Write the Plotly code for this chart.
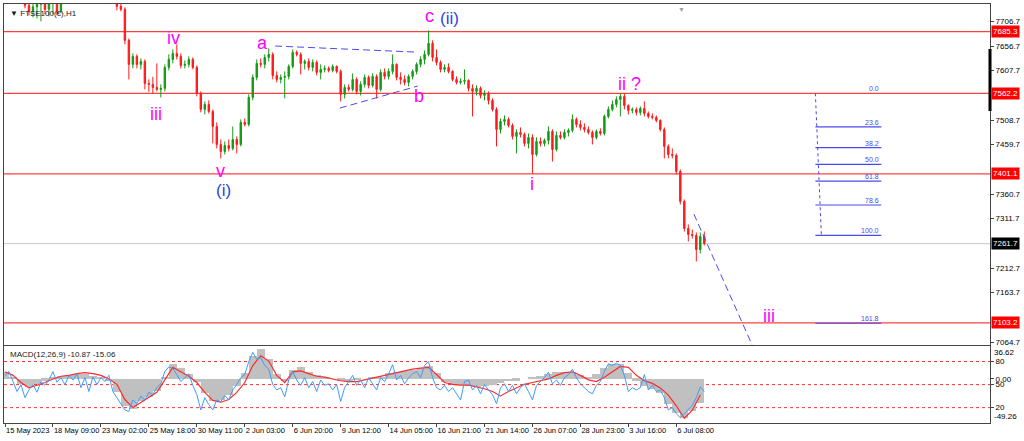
import plotly.graph_objects as go

# FTSE100 H1 candles (index = bar number)
opens = [7770, 7765, 7758, 7750, 7752, 7748, 7738, 7726, 7735, 7740, 7744, 7730, 7742, 7748, 7726, 7752,
         7765, 7778, 7788, 7782, 7776, 7785, 7780, 7770, 7778, 7772, 7764, 7758, 7750, 7736, 7730, 7668,
         7620, 7636, 7620, 7626, 7582, 7580, 7574, 7570, 7572, 7614, 7630, 7642, 7636, 7618, 7620, 7630,
         7614, 7562, 7530, 7540, 7526, 7496, 7460, 7446, 7458, 7452, 7470, 7460, 7504, 7500, 7554, 7594,
         7622, 7620, 7634, 7640, 7598, 7590, 7594, 7596, 7616, 7644, 7640, 7622, 7626, 7614, 7624, 7604,
         7610, 7612, 7608, 7616, 7606, 7560, 7574, 7570, 7590, 7566, 7580, 7594, 7578, 7596, 7570, 7604,
         7596, 7606, 7620, 7594, 7590, 7584, 7596, 7606, 7620, 7630, 7640, 7662, 7634, 7624, 7610, 7614,
         7606, 7590, 7584, 7586, 7588, 7572, 7566, 7572, 7558, 7562, 7548, 7530, 7490, 7506, 7510, 7498,
         7476, 7484, 7480, 7462, 7474, 7440, 7466, 7462, 7468, 7486, 7450, 7478, 7474, 7484, 7488, 7510,
         7500, 7494, 7490, 7484, 7474, 7486, 7482, 7516, 7530, 7540, 7550, 7556, 7538, 7528, 7530, 7524,
         7532, 7522, 7516, 7514, 7508, 7490, 7456, 7440, 7438, 7406, 7346, 7292, 7280, 7278, 7250, 7276]
highs = [7780, 7775, 7768, 7760, 7762, 7756, 7750, 7745, 7748, 7752, 7756, 7750, 7758, 7760, 7762, 7770,
         7785, 7795, 7800, 7794, 7790, 7798, 7792, 7785, 7790, 7784, 7778, 7770, 7758, 7742, 7734, 7672,
         7642, 7640, 7632, 7630, 7590, 7595, 7622, 7580, 7620, 7640, 7650, 7660, 7642, 7628, 7636, 7634,
         7618, 7566, 7546, 7548, 7530, 7504, 7470, 7466, 7470, 7496, 7476, 7510, 7512, 7560, 7600, 7630,
         7632, 7640, 7652, 7644, 7606, 7600, 7606, 7620, 7650, 7648, 7644, 7630, 7632, 7630, 7628, 7620,
         7618, 7616, 7620, 7618, 7610, 7580, 7580, 7602, 7594, 7586, 7600, 7598, 7602, 7600, 7610, 7612,
         7612, 7640, 7622, 7604, 7598, 7600, 7610, 7624, 7636, 7648, 7688, 7668, 7650, 7628, 7620, 7622,
         7608, 7596, 7592, 7610, 7590, 7580, 7578, 7576, 7568, 7566, 7552, 7534, 7512, 7518, 7514, 7502,
         7490, 7494, 7484, 7482, 7480, 7474, 7474, 7472, 7496, 7490, 7486, 7486, 7490, 7492, 7520, 7514,
         7508, 7502, 7496, 7488, 7490, 7492, 7520, 7536, 7548, 7556, 7562, 7562, 7540, 7534, 7534, 7536,
         7546, 7526, 7522, 7518, 7510, 7494, 7460, 7452, 7442, 7410, 7350, 7300, 7290, 7284, 7284, 7286]
lows = [7760, 7752, 7748, 7744, 7745, 7732, 7718, 7714, 7712, 7706, 7720, 7716, 7720, 7718, 7722, 7745,
        7758, 7770, 7775, 7770, 7768, 7776, 7765, 7762, 7768, 7760, 7752, 7746, 7728, 7726, 7660, 7590,
        7612, 7612, 7610, 7570, 7565, 7562, 7566, 7554, 7566, 7608, 7622, 7630, 7612, 7612, 7614, 7610,
        7556, 7524, 7520, 7522, 7462, 7452, 7432, 7440, 7446, 7448, 7442, 7456, 7496, 7496, 7548, 7588,
        7614, 7612, 7626, 7590, 7584, 7582, 7552, 7590, 7612, 7636, 7600, 7610, 7608, 7606, 7598, 7590,
        7604, 7604, 7604, 7602, 7546, 7552, 7566, 7566, 7560, 7558, 7574, 7572, 7574, 7552, 7566, 7590,
        7590, 7600, 7588, 7580, 7578, 7576, 7590, 7600, 7614, 7620, 7636, 7626, 7618, 7604, 7604, 7602,
        7586, 7580, 7580, 7580, 7566, 7516, 7558, 7552, 7548, 7540, 7526, 7456, 7482, 7498, 7494, 7470,
        7442, 7474, 7456, 7452, 7402, 7436, 7456, 7456, 7460, 7426, 7446, 7470, 7470, 7476, 7484, 7494,
        7488, 7484, 7480, 7460, 7470, 7478, 7478, 7512, 7526, 7534, 7516, 7530, 7520, 7522, 7518, 7518,
        7516, 7512, 7510, 7504, 7486, 7432, 7432, 7432, 7400, 7340, 7286, 7266, 7272, 7226, 7242, 7258]
closes = [7765, 7758, 7750, 7752, 7748, 7738, 7726, 7735, 7740, 7744, 7730, 7742, 7748, 7726, 7752, 7765,
          7778, 7788, 7782, 7776, 7785, 7780, 7770, 7778, 7772, 7764, 7758, 7750, 7736, 7730, 7668, 7620,
          7636, 7620, 7626, 7582, 7580, 7574, 7570, 7572, 7614, 7630, 7642, 7636, 7618, 7620, 7630, 7614,
          7562, 7530, 7540, 7526, 7496, 7460, 7446, 7458, 7452, 7470, 7460, 7504, 7500, 7554, 7594, 7622,
          7620, 7634, 7640, 7598, 7590, 7594, 7596, 7616, 7644, 7640, 7622, 7626, 7614, 7624, 7604, 7610,
          7612, 7608, 7616, 7606, 7560, 7574, 7570, 7590, 7566, 7580, 7594, 7578, 7596, 7570, 7604, 7596,
          7606, 7620, 7594, 7590, 7584, 7596, 7606, 7620, 7630, 7640, 7662, 7634, 7624, 7610, 7614, 7606,
          7590, 7584, 7586, 7588, 7572, 7566, 7572, 7558, 7562, 7548, 7530, 7490, 7506, 7510, 7498, 7476,
          7484, 7480, 7462, 7474, 7440, 7466, 7462, 7468, 7486, 7450, 7478, 7474, 7484, 7488, 7510, 7500,
          7494, 7490, 7484, 7474, 7486, 7482, 7516, 7530, 7540, 7550, 7556, 7538, 7528, 7530, 7524, 7532,
          7522, 7516, 7514, 7508, 7490, 7456, 7440, 7438, 7406, 7346, 7292, 7280, 7278, 7250, 7276, 7261.7]

# MACD(12,26,9), one reading every second bar
macd_main = [8, 2, -6, -9, -6, -2, 2, 3, 4, 5,
             5, 3, 2, -3, -15, -30, -34, -25, -20, -14,
             2, 16, 12, 5, -4, -16, -25, -24, -18, -8,
             6, 25, 33, 22, 5, -3, 10, 13, 8, 4,
             2, 0, -2, -3, -1, 0, 1, 2, 6, 8,
             9, 10, 12, 14, 6, -4, -6, -7, -8, -9,
             -8, -7, -5, -3, -2, 0, 1, 3, 5, 7,
             8, 7, 4, 2, 5, 12, 17, 16, 6, -2,
             -8, -11, -16, -28, -38, -44, -36, -27]
macd_signal = [8, 4, -4, -10, -7, -4, 0, 3, 4, 6,
               7, 6, 4, 0, -6, -23, -32, -26, -20, -15,
               -1, 13, 8, 3, -4, -15, -24, -26, -23, -15,
               -4, 15, 26, 20, 4, -4, 8, 9, 6, 3,
               2, 0, -2, -3, -3, -1, 1, 3, 5, 7,
               9, 11, 12, 13, 5, -4, -6, -7, -7, -9,
               -11, -14, -19, -14, -10, -6, -4, -2, 0, 4,
               7, 8, 4, -1, -3, 2, 8, 14, 13, 4,
               -2, -5, -10, -18, -30, -44, -35, -18]
# blue oscillator drawn in the same pane (0-100 scale, levels 20/50/80)
osc_line = [62, 67, 54, 41, 50, 33, 43, 50, 40, 54, 49, 56, 67, 53, 59, 50, 62, 56, 64, 46,
            59, 41, 60, 50, 59, 54, 62, 41, 33, 25, 17, 15, 30, 25, 35, 30, 40, 37, 46, 51,
            67, 73, 71, 63, 54, 59, 64, 49, 37, 17, 33, 24, 17, 30, 28, 36, 30, 43, 50, 59,
            63, 80, 92, 83, 85, 75, 70, 50, 43, 46, 34, 56, 67, 56, 49, 59, 46, 54, 41, 56,
            49, 51, 43, 50, 28, 46, 54, 62, 49, 56, 46, 59, 51, 43, 59, 54, 64, 76, 56, 62,
            51, 59, 64, 67, 59, 75, 80, 59, 46, 43, 49, 41, 46, 38, 30, 54, 56, 43, 49, 38,
            50, 43, 37, 25, 46, 51, 41, 49, 38, 46, 51, 41, 30, 49, 54, 59, 66, 51, 56, 49,
            59, 63, 70, 59, 51, 46, 41, 38, 49, 54, 67, 77, 75, 78, 75, 62, 41, 46, 43, 46,
            63, 43, 49, 41, 43, 33, 17, 20, 12, 7, 12, 17, 23, 33, 47, 41]
osc_levels = [20, 50, 80]

date_labels = ["15 May 2023", "18 May 09:00", "23 May 02:00", "25 May 18:00", "30 May 11:00",
               "2 Jun 03:00", "6 Jun 20:00", "9 Jun 12:00", "14 Jun 05:00", "16 Jun 21:00",
               "21 Jun 14:00", "26 Jun 07:00", "28 Jun 23:00", "3 Jul 16:00", "6 Jul 08:00"]
price_ticks = [7064.7, 7163.7, 7212.7, 7311.7, 7360.7,
               7459.7, 7508.7, 7607.7, 7656.7, 7706.7]
red_levels = [7685.3, 7562.2, 7401.1, 7103.2]
last_price = 7261.7
fib_high, fib_low = 7562.2, 7278.1
fib_levels = [0.0, 23.6, 38.2, 50.0, 61.8, 78.6, 100.0, 161.8]

bars = list(range(len(closes)))
bars2 = bars[::2]

MAGENTA = "#ff00ff"
WAVEBLUE = "#2a45d8"
LINEBLUE = "#4a4af0"
FONT = "Liberation Sans"

fig = go.Figure()
fig.add_trace(go.Candlestick(
    x=bars, open=opens, high=highs, low=lows, close=closes,
    increasing=dict(line=dict(color="#139a13", width=1), fillcolor="#139a13"),
    decreasing=dict(line=dict(color="#ff1a1a", width=1), fillcolor="#ff1a1a"),
    whiskerwidth=0, showlegend=False, hoverinfo="skip", xaxis="x", yaxis="y"))
fig.add_trace(go.Bar(x=bars2, y=macd_main, width=2, marker=dict(color="#c0c0c0", line=dict(width=0)),
                     showlegend=False, xaxis="x2", yaxis="y2"))
fig.add_trace(go.Scatter(x=bars2, y=macd_signal, mode="lines", line=dict(color="#ff2a2a", width=1.2),
                         showlegend=False, xaxis="x2", yaxis="y2"))
fig.add_trace(go.Scatter(x=bars, y=osc_line, mode="lines", line=dict(color="#3d9bff", width=1),
                         showlegend=False, xaxis="x2", yaxis="y3"))

shapes = []
for lv in red_levels:
    shapes.append(dict(type="line", xref="x domain", x0=0, x1=1, yref="y", y0=lv, y1=lv,
                       line=dict(color="#ff4040", width=1.2), layer="below"))
shapes.append(dict(type="line", xref="x domain", x0=0, x1=1, yref="y", y0=last_price, y1=last_price,
                   line=dict(color="#c8c8c8", width=1), layer="below"))
for lv in osc_levels:
    shapes.append(dict(type="line", xref="x2 domain", x0=0, x1=1, yref="y3", y0=lv, y1=lv,
                       line=dict(color="#ff3030", width=1, dash="dot"), layer="below"))

# triangle b-wave trendlines and the wave iii projection
for (x0, y0, x1, y1) in [(67.6, 7656.7, 102.5, 7644.7), (83.8, 7532.7, 103.3, 7576.7),
                         (172.4, 7320.7, 187.0, 7058.7)]:
    shapes.append(dict(type="line", xref="x", yref="y", x0=x0, y0=y0, x1=x1, y1=y1,
                       line=dict(color=LINEBLUE, width=1, dash="7px,4px")))

# fibonacci tool
fx0, fx1 = 202.8, 219.3
shapes.append(dict(type="line", xref="x", yref="y", x0=fx0, y0=fib_high, x1=fx0 + 1.5, y1=fib_low,
                   line=dict(color=LINEBLUE, width=1, dash="dot")))
annotations = []
for lv in fib_levels:
    p = fib_high - (fib_high - fib_low) * lv / 100
    if lv > 0:
        shapes.append(dict(type="line", xref="x", yref="y", x0=fx0, x1=fx1, y0=p, y1=p,
                           line=dict(color=LINEBLUE, width=1.2)))
    annotations.append(dict(x=fx1, y=p, xref="x", yref="y", xanchor="right", yanchor="bottom",
                            text=f"{lv:.1f}", showarrow=False, yshift=-1,
                            font=dict(family=FONT, size=7, color="#4a4af0")))

# black marker on the price scale
shapes.append(dict(type="line", xref="paper", yref="y", x0=1, x1=1, y0=7526.7, y1=7650.7,
                   line=dict(color="black", width=3)))

wave_text = [("iv", 42.2, 7672.7, MAGENTA), ("iii", 37.7, 7520.7, MAGENTA), ("v", 53.9, 7407.0, MAGENTA),
             ("(i)", 54.6, 7368.0, WAVEBLUE), ("a", 64.4, 7662.7, MAGENTA), ("b", 103.5, 7556.7, MAGENTA),
             ("c", 106.3, 7716.7, MAGENTA), ("(ii)", 111.3, 7712.7, WAVEBLUE), ("i", 132.0, 7380.7, MAGENTA),
             ("ii ?", 156.2, 7580.7, MAGENTA), ("iii", 191.1, 7116.7, MAGENTA)]
for t, x, y, c in wave_text:
    annotations.append(dict(x=x, y=y, xref="x", yref="y", text=t, showarrow=False,
                            font=dict(family=FONT, size=18 if c == MAGENTA else 17, color=c)))

# price boxes on the right scale
for lv in red_levels + [last_price]:
    annotations.append(dict(x=1, y=lv, xref="paper", yref="y", xanchor="left", xshift=1,
                            text=f"{lv:.1f}", showarrow=False, bgcolor="#ff0000" if lv != last_price else "#000000",
                            borderpad=1, font=dict(family=FONT, size=8, color="white")))

annotations += [
    dict(x=0.004, y=1, xref="paper", yref="paper", xanchor="left", yanchor="top", yshift=-3,
         text="▼ FTSE100(€),H1", showarrow=False, font=dict(family=FONT, size=8, color="#202020")),
    dict(x=0.6876, y=1, xref="paper", yref="paper", xanchor="center", yanchor="top",
         text="▼", showarrow=False, font=dict(family=FONT, size=7, color="#a0a0a0")),
    dict(x=0.004, y=1, xref="paper", yref="y2 domain", xanchor="left", yanchor="top", yshift=-2,
         text="MACD(12,26,9) -10.87 -15.06", showarrow=False, font=dict(family=FONT, size=8, color="#202020")),
    dict(x=1, y=1, xref="paper", yref="y2 domain", xanchor="left", yanchor="top", xshift=2,
         text="36.62", showarrow=False, font=dict(family=FONT, size=8, color="black")),
    dict(x=1, y=0, xref="paper", yref="y2 domain", xanchor="left", yanchor="bottom", xshift=2,
         text="-49.26", showarrow=False, font=dict(family=FONT, size=8, color="black")),
]

frame = dict(showline=True, mirror=True, linecolor="#444444", linewidth=1, showgrid=False, zeroline=False)
xr = [-0.25, 246.5]
fig.update_layout(
    width=1024, height=441, margin=dict(l=3, r=32, t=3, b=18),
    paper_bgcolor="white", plot_bgcolor="white", showlegend=False, bargap=0, boxgap=0.5,
    font=dict(family=FONT, size=8, color="black"),
    xaxis=dict(domain=[0, 1], anchor="y", range=xr, showticklabels=False, ticks="",
               rangeslider=dict(visible=False), **frame),
    xaxis2=dict(domain=[0, 1], anchor="y2", range=xr, matches="x", tickmode="array",
                tickvals=list(range(0, 169, 12)), ticktext=date_labels, ticks="outside", ticklen=3,
                tickcolor="#444444", ticklabelposition="outside right", tickangle=0,
                tickfont=dict(family=FONT, size=7.5, color="black"), **frame),
    yaxis=dict(domain=[0.1857, 1], anchor="x", side="right", range=[7058.7, 7740.7],
               tickmode="array", tickvals=price_ticks, ticktext=[f"{v:.1f}" for v in price_ticks],
               ticks="outside", ticklen=3, tickcolor="#444444", tickfont=dict(size=8), **frame),
    yaxis2=dict(domain=[0, 0.1833], anchor="x2", side="right", range=[-49.26, 36.62],
                tickmode="array", tickvals=[0], ticktext=["0.00"], ticks="outside", ticklen=3,
                tickcolor="#444444", tickfont=dict(size=8), **frame),
    yaxis3=dict(overlaying="y2", anchor="x2", side="right", range=[0, 100], tickmode="array",
                tickvals=osc_levels, ticktext=[str(v) for v in osc_levels], ticks="outside", ticklen=3,
                tickcolor="#444444", tickfont=dict(size=8), showgrid=False, zeroline=False),
    shapes=shapes, annotations=annotations,
)

# the page body keeps an 8px default margin; drop it so the chart sits at the window edge
fig.write_html("out.html", config={"displayModeBar": False},
               post_script="document.body.style.margin='0px';")
